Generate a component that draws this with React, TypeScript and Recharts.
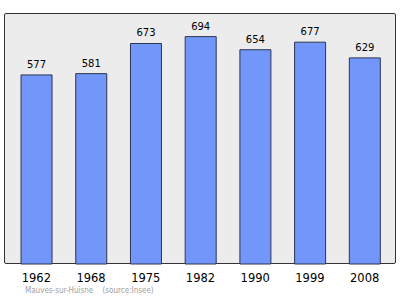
import { BarChart, Bar, XAxis, YAxis, LabelList } from "recharts";

const years = ["1962", "1968", "1975", "1982", "1990", "1999", "2008"];
const population = [577, 581, 673, 694, 654, 677, 629];

const data = years.map((year, i) => ({ year, pop: population[i] }));

export default function App() {
  return (
    <div
      style={{
        position: "absolute",
        left: 0,
        top: 0,
        width: 400,
        height: 299,
        background: "#fff",
        fontFamily: "'DejaVu Sans', sans-serif",
      }}
    >
      {/* plot frame */}
      <div
        style={{
          position: "absolute",
          left: 4,
          top: 13,
          width: 390,
          height: 249,
          border: "1px solid #333",
          borderRadius: 2,
          background: "#ececec",
        }}
      />
      <div style={{ position: "absolute", left: 0, top: 0 }}>
        <BarChart
          width={400}
          height={299}
          data={data}
          margin={{ top: 14, right: 4, bottom: 0, left: 5 }}
          barCategoryGap="22%"
        >
          <XAxis
            dataKey="year"
            height={35}
            axisLine={false}
            tickLine={false}
            padding={{ left: 4, right: 4 }}
            tick={{ fontSize: 11.5, fill: "#000" }}
            tickMargin={4}
          />
          <YAxis hide domain={[0, 763]} />
          <Bar
            dataKey="pop"
            fill="#7296fa"
            stroke="#2b3550"
            strokeWidth={1}
            isAnimationActive={false}
          >
            <LabelList
              dataKey="pop"
              position="top"
              offset={7}
              style={{ fontSize: 10, fill: "#000" }}
            />
          </Bar>
        </BarChart>
      </div>
      <div
        style={{
          position: "absolute",
          left: 25,
          top: 286,
          fontSize: 8,
          color: "#a0a0a0",
          whiteSpace: "pre",
          fontFamily: "'Liberation Sans Narrow', 'DejaVu Sans Condensed', sans-serif",
        }}
      >
        {"Mauves-sur-Huisne    (source:Insee)"}
      </div>
    </div>
  );
}
